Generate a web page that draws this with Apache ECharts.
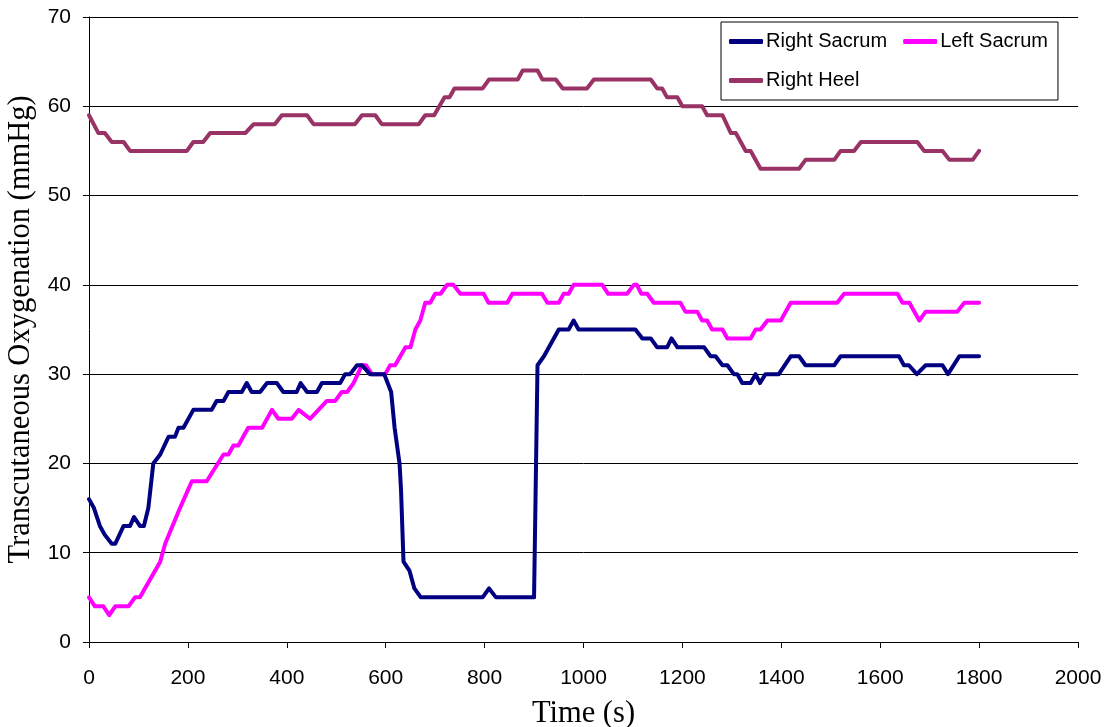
<!DOCTYPE html>
<html>
<head>
<meta charset="utf-8">
<script src="https://cdn.jsdelivr.net/npm/echarts@6/dist/echarts.min.js"></script>
<style>
  html, body { margin: 0; padding: 0; background: #fff; }
  #chart { width: 1107px; height: 727px; }
</style>
</head>
<body>
<div id="chart"></div>
<script>
// Transcutaneous oxygenation readings, [time (s), mmHg]
const rightSacrum = [
  [0,16],[10,15],[22,13],[32,12],[46,11],[53,11],[70,13],[83,13],[91,14],[103,13],[111,13],
  [120,15],[130,20],[144,21],[161,23],[174,23],[181,24],[191,24],[211,26],[248,26],[258,27],
  [272,27],[282,28],[309,28],[319,29],[329,28],[346,28],[360,29],[380,29],[393,28],[420,28],
  [428,29],[441,28],[461,28],[471,29],[508,29],[518,30],[528,30],[542,31],[552,31],[568,30],
  [597,30],[611,28],[618,24],[628,20],[631,17],[636,9],[648,8],[658,6],[671,5],[796,5],
  [809,6],[823,5],[900,5],[907,31],[920,32],[950,35],[970,35],[980,36],[990,35],[1105,35],
  [1119,34],[1136,34],[1149,33],[1169,33],[1178,34],[1190,33],[1244,33],[1257,32],[1267,32],
  [1281,31],[1291,31],[1304,30],[1311,30],[1321,29],[1338,29],[1348,30],[1357,29],[1368,30],
  [1395,30],[1419,32],[1436,32],[1449,31],[1507,31],[1520,32],[1638,32],[1648,31],[1658,31],
  [1674,30],[1692,31],[1726,31],[1737,30],[1760,32],[1800,32]
];
const leftSacrum = [
  [0,5],[12,4],[29,4],[41,3],[53,4],[80,4],[93,5],[103,5],[144,9],[154,11],[184,15],[208,18],
  [238,18],[272,21],[282,21],[292,22],[302,22],[322,24],[350,24],[370,26],[383,25],[410,25],
  [424,26],[447,25],[464,26],[481,27],[498,27],[511,28],[522,28],[535,29],[552,31],[560,31],
  [572,30],[599,30],[609,31],[619,31],[640,33],[650,33],[660,35],[670,36],[680,38],[690,38],
  [700,39],[711,39],[724,40],[737,40],[751,39],[798,39],[808,38],[846,38],[856,39],[916,39],
  [927,38],[950,38],[960,39],[970,39],[980,40],[1038,40],[1050,39],[1088,39],[1102,40],
  [1108,40],[1117,39],[1129,39],[1142,38],[1196,38],[1206,37],[1230,37],[1240,36],[1250,36],
  [1260,35],[1281,35],[1291,34],[1338,34],[1348,35],[1358,35],[1372,36],[1399,36],[1419,38],
  [1513,38],[1527,39],[1635,39],[1645,38],[1659,38],[1679,36],[1692,37],[1756,37],[1770,38],
  [1800,38]
];
const rightHeel = [
  [0,59],[19,57],[32,57],[46,56],[70,56],[83,55],[198,55],[211,56],[231,56],[245,57],[316,57],
  [333,58],[376,58],[390,59],[441,59],[454,58],[538,58],[552,59],[579,59],[592,58],[667,58],
  [680,59],[698,59],[719,61],[729,61],[739,62],[796,62],[809,63],[867,63],[877,64],[907,64],
  [917,63],[944,63],[958,62],[1007,62],[1021,63],[1136,63],[1149,62],[1159,62],[1169,61],
  [1190,61],[1200,60],[1240,60],[1250,59],[1281,59],[1298,57],[1308,57],[1328,55],[1338,55],
  [1358,53],[1436,53],[1449,54],[1507,54],[1520,55],[1547,55],[1561,56],[1675,56],[1689,55],
  [1726,55],[1740,54],[1787,54],[1800,55]
];

const seriesNames = ['Right Sacrum', 'Left Sacrum', 'Right Heel'];
const seriesColors = ['#000080', '#FF00FF', '#993366'];
const seriesData = [rightSacrum, leftSacrum, rightHeel];

const xTitle = 'Time (s)';
const yTitle = 'Transcutaneous Oxygenation (mmHg)';

const chart = echarts.init(document.getElementById('chart'), null, { renderer: 'canvas' });

const sans = 'Liberation Sans, Arial, sans-serif';
const serif = 'Liberation Serif, Times New Roman, serif';

chart.setOption({
  animation: false,
  backgroundColor: '#fff',
  grid: { left: 89, right: 29, top: 17, bottom: 85, containLabel: false, outerBoundsMode: 'none' },
  legend: {
    data: seriesNames.map(n => ({ name: n, icon: 'roundRect' })),
    left: 721,
    top: 22,
    width: 330,
    orient: 'horizontal',
    itemWidth: 34,
    itemHeight: 5,
    itemGap: 16,
    padding: [8, 10, 8, 8],
    borderColor: '#000',
    borderWidth: 1,
    backgroundColor: '#fff',
    textStyle: { fontFamily: sans, fontSize: 20, color: '#000', lineHeight: 23, padding: [0, 0, 0, -2] }
  },
  xAxis: {
    type: 'value',
    min: 0, max: 2000, interval: 200,
    name: xTitle,
    nameLocation: 'middle',
    nameGap: 56,
    nameTextStyle: { fontFamily: serif, fontSize: 30.5, color: '#000' },
    axisLine: { show: true, onZero: false, lineStyle: { color: '#000', width: 1 } },
    axisTick: { show: true, inside: false, length: 6, lineStyle: { color: '#000' } },
    axisLabel: { fontFamily: sans, fontSize: 21, color: '#000', margin: 26, formatter: v => String(v) },
    splitLine: { show: false }
  },
  yAxis: {
    type: 'value',
    min: 0, max: 70, interval: 10,
    name: yTitle,
    nameLocation: 'middle',
    nameGap: 52,
    nameRotate: 90,
    nameTextStyle: { fontFamily: serif, fontSize: 30.5, color: '#000' },
    axisLine: { show: true, lineStyle: { color: '#000', width: 1 } },
    axisTick: { show: true, inside: false, length: 6, lineStyle: { color: '#000' } },
    axisLabel: { fontFamily: sans, fontSize: 21, color: '#000', margin: 18, formatter: v => String(v) },
    splitLine: { show: true, lineStyle: { color: '#000', width: 1 } }
  },
  series: seriesNames.map((name, i) => ({
    name: name,
    type: 'line',
    data: seriesData[i],
    symbol: 'none',
    color: seriesColors[i],
    lineStyle: { width: 4, color: seriesColors[i], join: 'round', cap: 'round' },
    z: 3 - i
  }))
});
</script>
</body>
</html>
